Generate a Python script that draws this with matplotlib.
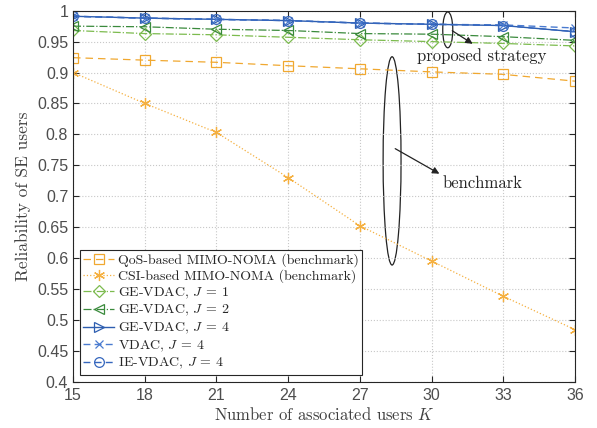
import matplotlib
matplotlib.use("Agg")
import matplotlib.pyplot as plt
from matplotlib.patches import Ellipse
import numpy as np

# number of associated users K
K = [15, 18, 21, 24, 27, 30, 33, 36]

qos_noma = [0.924, 0.920, 0.9165, 0.911, 0.906, 0.901, 0.897, 0.886]
csi_noma = [0.900, 0.850, 0.803, 0.730, 0.652, 0.595, 0.538, 0.484]
ge_j1 = [0.968, 0.963, 0.961, 0.957, 0.953, 0.950, 0.947, 0.943]
ge_j2 = [0.975, 0.974, 0.970, 0.968, 0.963, 0.962, 0.958, 0.952]
ge_j4 = [0.991, 0.988, 0.986, 0.984, 0.980, 0.978, 0.976, 0.966]
vdac_j4 = [0.991, 0.988, 0.986, 0.984, 0.980, 0.978, 0.977, 0.972]
ie_j4 = [0.991, 0.988, 0.986, 0.984, 0.980, 0.978, 0.976, 0.966]

xticks = [15, 18, 21, 24, 27, 30, 33, 36]
yticks = np.round(np.arange(0.4, 1.0001, 0.05), 2)

plt.rcParams['mathtext.fontset'] = 'cm'
serif = ['cmr10', 'DejaVu Serif']

fig = plt.figure(figsize=(5.97, 4.28), dpi=100)
ax = fig.add_axes([0.1223, 0.1086, 0.8407, 0.8664])

ms = 7
ax.plot(K, qos_noma, ls=(0, (6, 4)), color='#f0a830', lw=0.9, marker='s', ms=ms,
        mfc='none', mew=0.9, label='QoS-based MIMO-NOMA (benchmark)')
ax.plot(K, csi_noma, ls=':', color='#f5b040', lw=0.9, marker=(6, 2, 0), ms=ms + 1,
        mfc='none', mew=0.9, label='CSI-based MIMO-NOMA (benchmark)')
ax.plot(K, ge_j1, ls='-.', color='#7cbb4e', lw=0.9, marker='D', ms=ms - 1,
        mfc='none', mew=0.9, label='GE-VDAC, $J\\:=\\:1$')
ax.plot(K, ge_j2, ls='-.', color='#3a8a3c', lw=0.9, marker='<', ms=ms,
        mfc='none', mew=0.9, label='GE-VDAC, $J\\:=\\:2$')
ax.plot(K, ge_j4, ls='-', color='#2e5eb0', lw=1.0, marker='>', ms=ms,
        mfc='none', mew=0.9, label='GE-VDAC, $J\\:=\\:4$')
ax.plot(K, vdac_j4, ls=(0, (5, 3)), color='#4a7bd0', lw=1.0, marker='x', ms=ms - 1,
        mfc='none', mew=0.9, label='VDAC, $J\\:=\\:4$')
ax.plot(K, ie_j4, ls=(0, (5, 3)), color='#3566bd', lw=1.0, marker='o', ms=ms,
        mfc='none', mew=0.9, label='IE-VDAC, $J\\:=\\:4$')

ax.set_xlim(15, 36)
ax.set_ylim(0.4, 1.0)
ax.set_xticks(xticks)
ax.set_yticks(yticks)
ax.set_yticklabels([('%g' % v) for v in yticks])
ax.grid(True, ls=':', color='#c8c8c8', lw=0.8)
ax.tick_params(direction='in', top=True, right=True, labelsize=11.5,
               colors='#262626', labelcolor='#4d4d4d', length=4)
ax.tick_params(axis='x', pad=5)
for lab in ax.get_xticklabels() + ax.get_yticklabels():
    lab.set_family('Liberation Sans')
for sp in ax.spines.values():
    sp.set_color('#262626')
    sp.set_linewidth(0.8)

ax.set_xlabel('Number of associated users $K$', family=serif, fontsize=12,
              color='#404040', labelpad=2)
ax.set_ylabel('Reliability of SE users', family=serif, fontsize=12.5,
              color='#404040', labelpad=4)

# annotations
ax.add_patch(Ellipse((30.68, 0.969), 0.42, 0.058, fill=False, ec='#222222', lw=0.9))
ax.annotate('', xy=(31.82, 0.944), xytext=(30.77, 0.970),
            arrowprops=dict(arrowstyle='-|>', color='#222222', lw=0.9))
ax.text(32.08, 0.926, 'proposed strategy', family=serif, fontsize=12,
        color='#262626', ha='center', va='center')

ax.add_patch(Ellipse((28.35, 0.757), 0.75, 0.337, fill=False, ec='#222222', lw=0.9))
ax.annotate('', xy=(30.43, 0.734), xytext=(28.38, 0.779),
            arrowprops=dict(arrowstyle='-|>', color='#222222', lw=0.9))
ax.text(32.15, 0.721, 'benchmark', family=serif, fontsize=12,
        color='#262626', ha='center', va='center')

leg = ax.legend(loc='lower left', prop={'family': serif, 'size': 10},
                fancybox=False, edgecolor='#262626', framealpha=1,
                borderaxespad=0.5, handlelength=2.2, labelspacing=0.17,
                borderpad=0.25, handletextpad=0.3)
leg.get_frame().set_linewidth(0.8)
for t in leg.get_texts():
    t.set_color('#262626')

fig.savefig('out.png', dpi=100)
